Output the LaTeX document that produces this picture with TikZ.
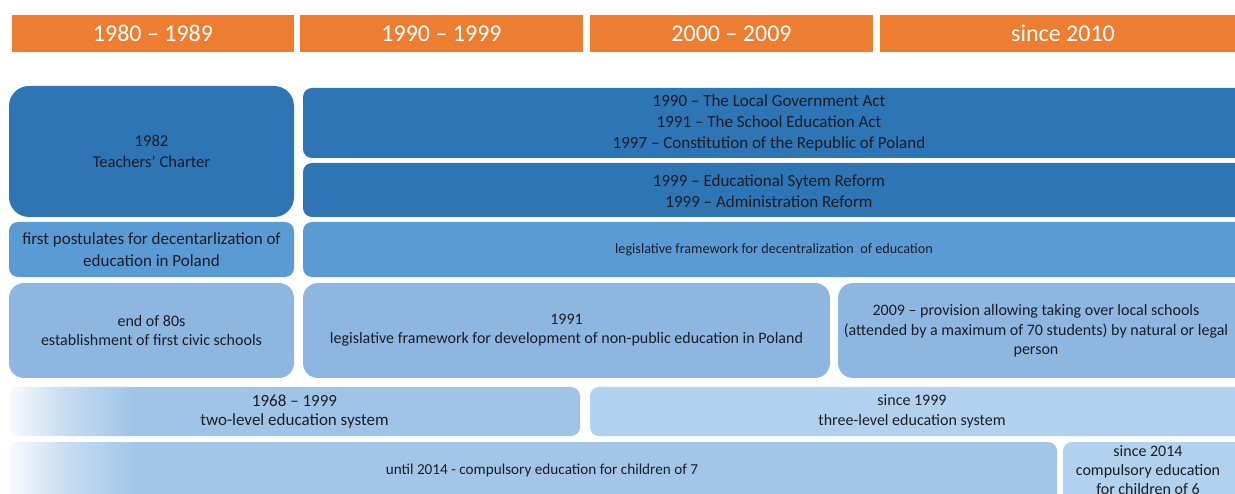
\documentclass[tikz,border=0pt]{standalone}
\usepackage{fontspec}
\setmainfont{Carlito}
\definecolor{orng}{HTML}{ED7D31}
\definecolor{dkb}{HTML}{2E75B6}
\definecolor{mdb}{HTML}{5B9BD5}
\definecolor{ltb}{HTML}{8DB7E1}
\definecolor{lbl}{HTML}{9FC4E7}
\definecolor{lbr}{HTML}{B2D1EE}
\definecolor{lbf}{HTML}{A3C6E8}
\definecolor{txt}{HTML}{1B1E26}
\colorlet{lblw}{lbl!8}
\colorlet{lbfw}{lbf!8}
\pgfdeclarehorizontalshading{fadefour}{100bp}{color(0bp)=(lblw); color(25bp)=(lblw); color(30bp)=(lbl!60); color(36bp)=(lbl); color(100bp)=(lbl)}
\pgfdeclarehorizontalshading{fadefive}{100bp}{color(0bp)=(lbfw); color(25bp)=(lbfw); color(27.7bp)=(lbf!60); color(31bp)=(lbf); color(100bp)=(lbf)}
\begin{document}
\begin{tikzpicture}[x=1pt,y=-1pt,
  hdr/.style={fill=orng, text=white, inner sep=0pt, font=\fontsize{24}{28}\selectfont},
  box/.style={inner sep=0pt, align=center, text=txt},
  fs/.style 2 args={font=\fontsize{#1}{#2}\selectfont}
]
\useasboundingbox (0,0) rectangle (1235,494);
\clip (0,0) rectangle (1235,494);

% headers
\node[hdr, minimum width=282pt, minimum height=37pt] (h1) at (153,33.5) {1980 – 1989};
\node[hdr, minimum width=283pt, minimum height=37pt] (h2) at (441.5,33.5) {1990 – 1999};
\node[hdr, minimum width=283pt, minimum height=37pt] (h3) at (731.5,33.5) {2000 – 2009};
\node[hdr, minimum width=366pt, minimum height=37pt] (h4) at (1063,33.5) {since 2010};

% row 1
\node[box, fs={16.6}{21}, fill=dkb, rounded corners=20pt, minimum width=285pt, minimum height=131pt] (tc) at (151.5,151.5) {1982\\Teachers’ Charter};
\node[box, fs={17}{20.8}, fill=dkb, rounded corners=9pt, minimum width=952pt, minimum height=70pt] (acts) at (779,123) {};
\node[box, fs={17}{20.8}] (actst) at (769,123) {1990 – The Local Government Act\\1991 – The School Education Act\\1997 – Constitution of the Republic of Poland};
\node[box, fill=dkb, rounded corners=9pt, minimum width=952pt, minimum height=54pt] (ref) at (779,190) {};
\node[box, fs={17}{20.5}] (reft) at (769,191) {1999 – Educational Sytem Reform\\1999 – Administration Reform};

% row 2
\node[box, fs={17}{22}, fill=mdb, rounded corners=9pt, minimum width=285pt, minimum height=55pt] (post) at (151.5,249.5) {first postulates for decentarlization of\\education in Poland};
\node[box, fill=mdb, rounded corners=9pt, minimum width=952pt, minimum height=55pt] (lfd) at (779,249.5) {};
\node[box, fs={14.2}{17}] (lfdt) at (774,250) {legislative framework for decentralization\ \ of education};

% row 3
\node[box, fs={16}{19}, fill=ltb, rounded corners=15pt, minimum width=285pt, minimum height=95pt] (civ) at (151.5,330.5) {end of 80s\\establishment of first civic schools};
\node[box, fs={16}{19}, fill=ltb, rounded corners=15pt, minimum width=527pt, minimum height=95pt] (np) at (566.5,330.5) {1991\\legislative framework for development of non-public education in Poland};
\node[box, fill=ltb, rounded corners=15pt, minimum width=412pt, minimum height=95pt] (prov) at (1044,330.5) {};
\node[box, fs={16}{19.5}] (provt) at (1036,331) {2009 – provision allowing taking over local schools\\(attended by a maximum of 70 students) by natural or legal\\person};

% row 4
\node[box, fs={17}{18.5}, shade, shading=fadefour, rounded corners=9pt, minimum width=571pt, minimum height=49pt] (two) at (294.5,411.5) {1968 – 1999\\two-level education system};
\node[box, fill=lbr, rounded corners=9pt, minimum width=655pt, minimum height=49pt] (three) at (917.5,411.5) {};
\node[box, fs={16}{20}] (threet) at (912,411.5) {since 1999\\three-level education system};

% row 5
\node[box, shade, shading=fadefive, rounded corners=9pt, minimum width=1048pt, minimum height=70pt] (c7) at (533,477) {};
\node[box, fs={15.2}{18}] (c7t) at (542,470) {until 2014 - compulsory education for children of 7};
\node[box, fill=lbr, rounded corners=9pt, minimum width=182pt, minimum height=70pt] (c6) at (1154,477) {};
\node[box, fs={16}{19}] (c6t) at (1148,470) {since 2014\\compulsory education\\for children of 6};
\end{tikzpicture}
\end{document}
